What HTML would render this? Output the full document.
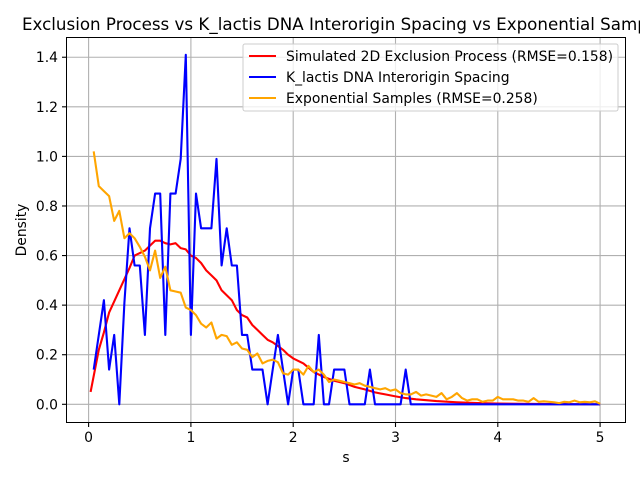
<!DOCTYPE html>
<html><head><meta charset="utf-8"><style>
body{margin:0;background:#fff}
svg text{font-family:"DejaVu Sans","Liberation Sans",sans-serif}
</style></head><body>
<svg id="chart" width="640" height="480" viewBox="0 0 640 480" xmlns="http://www.w3.org/2000/svg">
<rect width="640" height="480" fill="#fff"/>
<g id="grid"></g>
<g id="series"></g>
<rect x="66.5" y="37.5" width="559" height="385" fill="none" stroke="#000" stroke-width="1"/>
<g id="ticks"></g>
<text x="22" y="30" font-size="16.7">Exclusion Process vs K_lactis DNA Interorigin Spacing vs Exponential Samples</text>
<text x="346" y="462" font-size="13.9" text-anchor="middle">s</text>
<text x="26" y="230" font-size="13.9" text-anchor="middle" transform="rotate(-90 26 230)">Density</text>
<g>
<rect x="243" y="44" width="375" height="67" rx="2" fill="#fff" fill-opacity="0.8" stroke="#ccc"/>
<line x1="249" y1="56" x2="276" y2="56" stroke="#ff0000" stroke-width="2.1"/>
<text x="286" y="61" font-size="13.9">Simulated 2D Exclusion Process (RMSE=0.158)</text>
<line x1="249" y1="77" x2="276" y2="77" stroke="#0000ff" stroke-width="2.1"/>
<text x="286" y="82" font-size="13.9">K_lactis DNA Interorigin Spacing</text>
<line x1="249" y1="98" x2="276" y2="98" stroke="#ffa500" stroke-width="2.1"/>
<text x="286" y="103" font-size="13.9">Exponential Samples (RMSE=0.258)</text>
</g>
</svg>
<script>
const xTicks=[0,1,2,3,4,5];
const yTicks=[0.0,0.2,0.4,0.6,0.8,1.0,1.2,1.4];
const redX=[0.02,0.1,0.15,0.2,0.3,0.4,0.45,0.5,0.55,0.6,0.65,0.7,0.75,0.8,0.85,0.9,0.95,1.0,1.05,1.1,1.15,1.2,1.25,1.3,1.35,1.4,1.45,1.5,1.55,1.6,1.65,1.7,1.75,1.8,1.85,1.9,1.95,2.0,2.1,2.2,2.3,2.4,2.5,2.6,2.7,2.8,2.9,3.0,3.1,3.2,3.4,3.6,3.8,4.0,4.5,5.0];
const redY=[0.05,0.22,0.29,0.37,0.46,0.55,0.6,0.61,0.62,0.64,0.66,0.66,0.65,0.645,0.65,0.63,0.625,0.6,0.59,0.57,0.54,0.52,0.5,0.46,0.44,0.42,0.38,0.36,0.35,0.32,0.3,0.28,0.26,0.25,0.235,0.22,0.2,0.185,0.165,0.13,0.11,0.095,0.085,0.07,0.06,0.048,0.04,0.032,0.025,0.02,0.013,0.008,0.005,0.003,0.001,0];
const blueY=[0.14,0.28,0.42,0.14,0.28,0,0.41,0.71,0.56,0.56,0.28,0.71,0.85,0.85,0.28,0.85,0.85,0.99,1.41,0.28,0.85,0.71,0.71,0.71,0.99,0.56,0.71,0.56,0.56,0.28,0.28,0.14,0.14,0.14,0,0.14,0.28,0.14,0,0.14,0.14,0,0,0,0.28,0,0,0.14,0.14,0.14,0,0,0,0,0.14,0,0,0,0,0,0,0.14,0,0,0,0,0,0,0,0,0,0,0,0,0,0,0,0,0,0,0,0,0,0,0,0,0,0,0,0,0,0,0,0,0,0,0,0,0,0];
const orangeY=[1.02,0.88,0.86,0.84,0.74,0.78,0.67,0.69,0.67,0.635,0.595,0.54,0.62,0.51,0.555,0.46,0.455,0.45,0.39,0.38,0.36,0.325,0.31,0.33,0.265,0.28,0.275,0.24,0.25,0.225,0.22,0.19,0.205,0.165,0.175,0.18,0.17,0.125,0.12,0.14,0.14,0.12,0.155,0.13,0.14,0.12,0.09,0.1,0.095,0.09,0.085,0.08,0.085,0.075,0.07,0.065,0.06,0.065,0.055,0.06,0.045,0.04,0.04,0.05,0.035,0.04,0.035,0.03,0.045,0.02,0.03,0.045,0.025,0.015,0.02,0.02,0.01,0.015,0.015,0.03,0.02,0.02,0.02,0.015,0.015,0.01,0.025,0.01,0.012,0.01,0.008,0.005,0.01,0.008,0.015,0.008,0.01,0.008,0.012,0.002];
const NS="http://www.w3.org/2000/svg";
const X=v=>88.6+v*102.3;
const Y=v=>404.3-v*247.9;
function mk(tag,attrs,parent){const e=document.createElementNS(NS,tag);for(const k in attrs)e.setAttribute(k,attrs[k]);parent.appendChild(e);return e;}
const grid=document.getElementById('grid'),ticks=document.getElementById('ticks'),series=document.getElementById('series');
xTicks.forEach(t=>{
 const g=mk('line',{x1:X(t),x2:X(t),y1:37.5,y2:422.5,stroke:'#b0b0b0','stroke-width':1.1},grid);
 
 
 const tk=mk('line',{x1:X(t),x2:X(t),y1:422.5,y2:427,stroke:'#000','stroke-width':1.1},ticks);
 
 
 const tx=mk('text',{x:X(t),y:442,'font-size':13.9,'text-anchor':'middle'},ticks);
 tx.textContent=String(t);
 
 
});
yTicks.forEach(t=>{
 const g=mk('line',{x1:66.5,x2:625.5,y1:Y(t),y2:Y(t),stroke:'#b0b0b0','stroke-width':1.1},grid);
 
 
 const tk=mk('line',{x1:62,x2:66.5,y1:Y(t),y2:Y(t),stroke:'#000','stroke-width':1.1},ticks);
 
 
 const tx=mk('text',{x:58,y:Y(t)+5,'font-size':13.9,'text-anchor':'end'},ticks);
 tx.textContent=t.toFixed(1);
 
 
});
function line(xs,ys,color,name){
 const d=ys.map((v,i)=>(i?'L':'M')+X(xs[i]).toFixed(1)+','+Y(v).toFixed(1)).join('');
 const p=mk('path',{d:d,fill:'none',stroke:color,'stroke-width':2.1,'stroke-linejoin':'round'},series);
 
 
}
const step=(arr)=>arr.map((_,i)=>0.05*(i+1));
line(redX,redY,'#ff0000','simulated-line');
line(step(blueY),blueY,'#0000ff','klactis-line');
line(step(orangeY),orangeY,'#ffa500','exponential-line');
</script>
</body></html>
